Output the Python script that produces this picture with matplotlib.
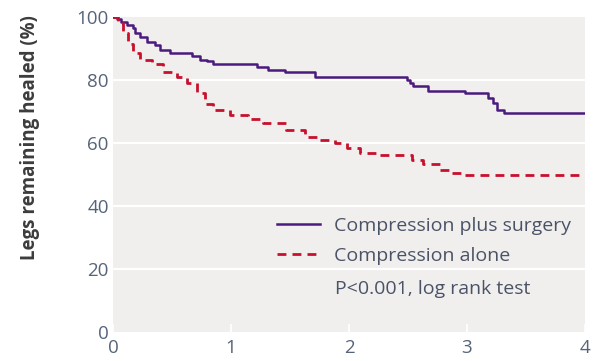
import matplotlib
matplotlib.use("Agg")
import matplotlib.pyplot as plt

# Compression plus surgery (step curve)
surg_t = [0.0, 0.03, 0.07, 0.12, 0.17, 0.19, 0.23, 0.29, 0.36, 0.40, 0.48, 0.67, 0.74, 0.80, 0.85,
          1.22, 1.31, 1.46, 1.71, 2.49, 2.52, 2.54, 2.67, 2.98, 3.18, 3.22, 3.25, 3.31, 4.0]
surg_v = [100, 99.5, 98.5, 97.5, 96.5, 95, 93.5, 92, 91, 89.5, 88.5, 87.5, 86.5, 86, 85,
          84, 83.2, 82.4, 81, 80, 79, 78, 76.6, 75.8, 74.4, 72.6, 70.5, 69.5, 69.5]

# Compression alone (step curve)
alone_t = [0.0, 0.04, 0.085, 0.13, 0.17, 0.23, 0.33, 0.42, 0.54, 0.63, 0.71, 0.78, 0.85, 0.99,
           1.14, 1.27, 1.47, 1.63, 1.75, 1.88, 1.98, 2.09, 2.26, 2.53, 2.63, 2.77, 2.87, 2.96, 4.0]
alone_v = [100, 98, 95, 91.5, 88.5, 86.3, 85.2, 82.5, 81, 79, 76, 72.5, 70.6, 68.8,
           67.5, 66.4, 64, 62, 61, 60, 58.4, 56.7, 56.2, 54.6, 53.3, 51.4, 50.5, 49.8, 49.8]

xticks = [0, 1, 2, 3, 4]
yticks = [0, 20, 40, 60, 80, 100]
labels = ["Compression plus surgery", "Compression alone"]
annot = "P<0.001, log rank test"
ylabel = "Legs remaining healed (%)"

purple = "#4a1a7e"
red = "#c8102e"
tickc = "#56647a"
textc = "#4a5366"
bg = "#f0efee"
fam = "Open Sans"

fig = plt.figure(figsize=(5.96, 3.61), dpi=100)
ax = fig.add_axes([113/596, 1-332/361, 472/596, 315/361])
ax.set_facecolor(bg)
for s in ax.spines.values():
    s.set_visible(False)

for yv in [20, 40, 60, 80]:
    ax.axhline(yv, color="white", lw=1.6, zorder=1)

ax.step(surg_t, surg_v, where="post", color=purple, lw=1.8, zorder=3, label=labels[0])
ax.step(alone_t, alone_v, where="post", color=red, lw=2.0, zorder=3, dashes=(3.2, 2.2),
        label=labels[1])

ax.set_xlim(0, 4)
ax.set_ylim(0, 100)
ax.set_xticks(xticks)
ax.set_yticks(yticks)
ax.tick_params(axis="x", direction="in", colors="white", length=6, width=1.2, pad=5,
               labelcolor=tickc, labelsize=13.5)
ax.tick_params(axis="y", length=0, pad=3, labelcolor=tickc, labelsize=13.5)
for lab in ax.get_xticklabels() + ax.get_yticklabels():
    lab.set_fontfamily(fam)

fig.text(30/596, 1-138/361, ylabel, rotation=90, ha="center", va="center",
         fontsize=13.5, fontweight="bold", color="#3c3c3c", family=fam)

leg = ax.legend(loc="upper left", bbox_to_anchor=((277-113)/472, (332-217)/315),
                frameon=False, borderpad=0, borderaxespad=0, handlelength=2.2,
                handletextpad=0.75, labelspacing=0.62,
                prop={"family": fam, "size": 14})
for t in leg.get_texts():
    t.set_color(textc)

ax.text((335-113)/118, (332-289)/3.15, annot, ha="left", va="center", fontsize=14,
        color=textc, family=fam)

fig.savefig("out.png", dpi=100)
